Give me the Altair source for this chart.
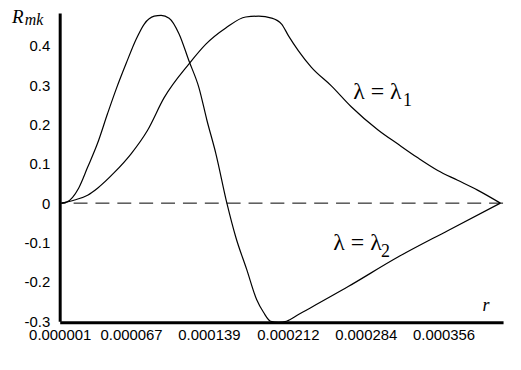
import altair as alt
import pandas as pd

# axis ticks
x_ticks = [0.000001, 0.000067, 0.000139, 0.000212, 0.000284, 0.000356]
y_ticks = [-0.3, -0.2, -0.1, 0.0, 0.1, 0.2, 0.3, 0.4]

# curve lambda = lambda1 (broad)
r1 = [0.0000028, 0.0000148, 0.0000268, 0.0000360, 0.0000516, 0.0000672, 0.0000820,
      0.0000976, 0.0001206, 0.0001362, 0.0001546, 0.0001730, 0.0001850, 0.0001970,
      0.0002062, 0.0002126, 0.0002218, 0.0002338, 0.0002522, 0.0002706, 0.0002954,
      0.0003138, 0.0003322, 0.0003506, 0.0003690, 0.0003874, 0.0004085]
R1 = [0.0, 0.008, 0.020, 0.038, 0.078, 0.126, 0.184,
      0.268, 0.354, 0.404, 0.445, 0.473, 0.475, 0.470,
      0.455, 0.425, 0.387, 0.345, 0.298, 0.245, 0.186,
      0.150, 0.115, 0.083, 0.058, 0.033, 0.0]

# curve lambda = lambda2 (oscillating)
r2 = [0.0000028, 0.0000074, 0.0000185, 0.0000268, 0.0000360, 0.0000452, 0.0000534,
      0.0000626, 0.0000718, 0.0000792, 0.0000884, 0.0000948, 0.0001022, 0.0001114,
      0.0001206, 0.0001298, 0.0001372, 0.0001454, 0.0001556, 0.0001638, 0.0001740,
      0.0001831, 0.0001896, 0.0001960, 0.0002034, 0.0002107, 0.0002218, 0.0002678,
      0.0003138, 0.0003598, 0.0004085]
R2 = [0.0, 0.0025, 0.038, 0.091, 0.152, 0.227, 0.291,
      0.356, 0.417, 0.455, 0.475, 0.477, 0.470, 0.430,
      0.361, 0.293, 0.210, 0.126, 0.000, -0.086, -0.169,
      -0.245, -0.278, -0.300, -0.303, -0.300, -0.283, -0.212,
      -0.137, -0.070, 0.0]

# annotations (data coordinates)
ann_text = ["λ = λ", "1", "λ = λ", "2"]
ann_x = [0.0002724, 0.0003184, 0.0002540, 0.0002981]
ann_y = [0.2654, 0.2477, -0.1188, -0.1365]
ann_size = [24, 18, 24, 18]

it_text = ["R", "mk", "r"]
it_x = [-0.0000432, -0.0000312, 0.0003920]
it_y = [0.4574, 0.4524, -0.2750]
it_size = [19, 16, 18]

df = pd.concat([
    pd.DataFrame({"r": r1, "R": R1, "curve": "l1"}),
    pd.DataFrame({"r": r2, "R": R2, "curve": "l2"}),
])
ann = pd.DataFrame({"t": ann_text, "x": ann_x, "y": ann_y, "s": ann_size})
ita = pd.DataFrame({"t": it_text, "x": it_x, "y": it_y, "s": it_size})

xscale = alt.Scale(domain=[0.000001, 0.000411], nice=False, zero=False)
yscale = alt.Scale(domain=[-0.3, 0.483], nice=False, zero=False)

xaxis = alt.Axis(values=x_ticks, format=".6f", title=None, grid=False, ticks=False,
                 tickSize=0, labelPadding=5, labelFontSize=15, labelFont="Liberation Sans",
                 labelColor="black", domainColor="black", domainWidth=3, offset=1,
                 labelFlush=False, labelOverlap=False)
yaxis = alt.Axis(values=y_ticks, title=None, grid=False, ticks=False, tickSize=0,
                 labelPadding=10, labelFontSize=15, labelFont="Liberation Sans",
                 labelColor="black", domainColor="black", domainWidth=3,
                 labelExpr="datum.value == 0 ? '0' : (datum.value < 0 ? '-' : '') + format(abs(datum.value), '.1f')",
                 labelFlush=False, labelOverlap=False)

lines = alt.Chart(df).mark_line(color="black", strokeWidth=1.2, interpolate="monotone").encode(
    x=alt.X("r:Q", scale=xscale, axis=xaxis),
    y=alt.Y("R:Q", scale=yscale, axis=yaxis),
    detail="curve:N",
)

zero = alt.Chart(pd.DataFrame({"z": [0.0]})).mark_rule(
    color="black", strokeWidth=1, strokeDash=[14, 8]
).encode(y=alt.Y("z:Q", scale=yscale))

labels = alt.Chart(ann).mark_text(
    font="Liberation Serif", align="left", baseline="alphabetic", color="black", clip=False
).encode(
    x=alt.X("x:Q", scale=xscale),
    y=alt.Y("y:Q", scale=yscale),
    text="t:N",
    size=alt.Size("s:Q", scale=None, legend=None),
)

italics = alt.Chart(ita).mark_text(
    font="Liberation Serif", fontStyle="italic", align="left", baseline="alphabetic",
    color="black", clip=False
).encode(
    x=alt.X("x:Q", scale=xscale),
    y=alt.Y("y:Q", scale=yscale),
    text="t:N",
    size=alt.Size("s:Q", scale=None, legend=None),
)

chart = alt.layer(zero, lines, labels, italics).properties(
    width=446, height=310,
    autosize=alt.AutoSizeParams(type="none"),
    padding={"left": 52, "top": 4, "right": 10, "bottom": 44},
    background="white",
).configure_view(stroke=None)

chart.save("out.html", embed_options={"renderer": "svg", "actions": False})
